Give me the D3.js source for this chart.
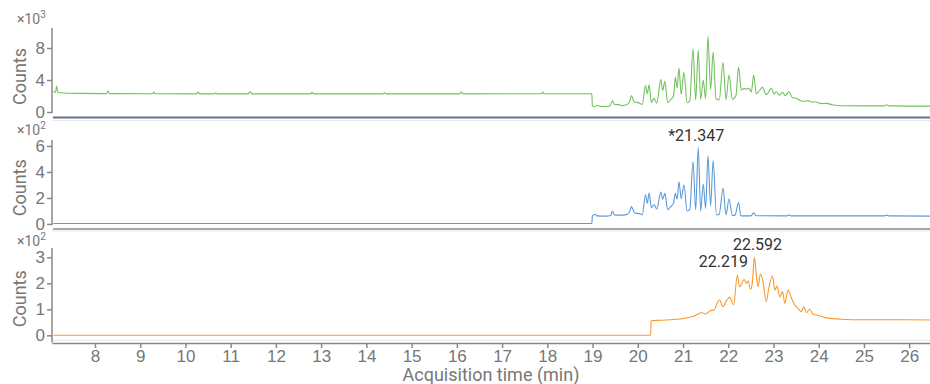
<!DOCTYPE html>
<html>
<head>
<meta charset="utf-8">
<script src="https://cdn.jsdelivr.net/npm/d3@7"></script>
<style>
  body { margin: 0; background: #fff; }
  svg { display: block; font-family: Roboto, "Noto Sans", sans-serif; }
  .axis .tick text { fill: #777; font-size: 17px; }
  .axis .tick line, .axis .domain { stroke: #888; stroke-width: 1.5; }
  .axis-title { fill: #777; font-size: 18px; }
  .mult { fill: #777; font-size: 14px; }
  .peak-label { fill: #333; font-size: 16px; }
  .trace { fill: none; stroke-width: 1.1; stroke-linejoin: round; }
</style>
</head>
<body>
<div id="chart"></div>
<script>
// --- Data (time in min, counts) ---
const ticTrace = [
  [7.08, 2550], [7.13, 2480], [7.15, 3250], [7.18, 2480], [7.3, 2380], [7.6, 2330],
  [8.26, 2300], [8.29, 2650], [8.32, 2300], [9.27, 2280], [9.3, 2480], [9.33, 2280],
  [10.25, 2270], [10.28, 2480], [10.31, 2270], [10.64, 2260], [10.67, 2400], [10.7, 2260],
  [11.38, 2260], [11.43, 2520], [11.48, 2260], [12.77, 2260], [12.8, 2460], [12.83, 2260],
  [14.37, 2270], [14.4, 2420], [14.43, 2270], [16.07, 2270], [16.1, 2540], [16.13, 2270],
  [17.87, 2280], [17.9, 2500], [17.93, 2280], [18.985, 2280],
  [18.995, 800], [19.04, 650], [19.1, 820], [19.18, 700], [19.3, 680], [19.38, 760],
  [19.44, 1400], [19.49, 900], [19.56, 950], [19.65, 800], [19.75, 900], [19.82, 1300],
  [19.86, 2050], [19.92, 1250], [19.98, 1200], [20.04, 1100], [20.1, 950], [20.17, 3300],
  [20.21, 2300], [20.25, 3400], [20.3, 1200], [20.36, 1700], [20.42, 1100], [20.51, 4050],
  [20.55, 2700], [20.6, 3850], [20.66, 1150], [20.72, 1500], [20.79, 2000], [20.83, 4350],
  [20.87, 3000], [20.91, 5500], [20.96, 2200], [21.02, 4950], [21.09, 1150], [21.15, 1400],
  [21.22, 7900], [21.28, 1500], [21.336, 7700], [21.39, 1600], [21.447, 3950], [21.5, 1650],
  [21.551, 9450], [21.61, 2800], [21.666, 7500], [21.73, 1650], [21.8, 1500], [21.885, 6170],
  [21.95, 1550], [22.017, 4630], [22.09, 1580], [22.17, 2050], [22.227, 5580], [22.29, 2750],
  [22.35, 2950], [22.4, 2850], [22.46, 2950], [22.51, 2500], [22.563, 4630], [22.62, 2300],
  [22.68, 2600], [22.755, 3080], [22.84, 2170], [22.955, 2960], [23.01, 2250], [23.065, 2540],
  [23.13, 2100], [23.2, 2450], [23.26, 2050], [23.34, 2540], [23.42, 1800], [23.51, 1710],
  [23.6, 1400], [23.68, 1350], [23.76, 1420], [23.84, 1250], [23.93, 1250], [24.05, 1050],
  [24.17, 1080], [24.3, 900], [24.5, 780], [25.0, 760], [25.45, 760], [25.5, 900],
  [25.55, 760], [26.0, 740], [26.46, 740]
];

const eicTrace = [
  [7.08, 3], [18.985, 3], [18.995, 60], [19.05, 75], [19.1, 62], [19.3, 60], [19.4, 65],
  [19.44, 100], [19.48, 70], [19.6, 68], [19.75, 72], [19.82, 95], [19.86, 133], [19.93, 85],
  [20.05, 78], [20.1, 70], [20.17, 225], [20.21, 160], [20.25, 238], [20.3, 125], [20.36, 150],
  [20.42, 115], [20.51, 245], [20.55, 190], [20.6, 235], [20.66, 110], [20.72, 130],
  [20.79, 160], [20.83, 236], [20.87, 190], [20.91, 325], [20.96, 195], [21.02, 300],
  [21.09, 100], [21.15, 110], [21.22, 480], [21.28, 110], [21.336, 590], [21.39, 100],
  [21.447, 308], [21.5, 120], [21.551, 525], [21.61, 140], [21.666, 487], [21.74, 70],
  [21.8, 75], [21.885, 275], [21.95, 70], [22.017, 192], [22.09, 65], [22.15, 68],
  [22.227, 164], [22.28, 62], [22.5, 62], [22.56, 85], [22.62, 63], [23.3, 62], [23.34, 70],
  [23.38, 62], [25.45, 62], [25.5, 68], [25.55, 62], [26.46, 60]
];

const ticTrace2 = [
  [7.08, 0], [20.285, 0], [20.295, 56], [20.5, 58], [20.93, 63], [21.22, 72], [21.41, 87],
  [21.5, 82], [21.59, 93], [21.7, 100], [21.75, 123], [21.81, 136], [21.88, 110], [21.97, 136],
  [22.03, 146], [22.12, 117], [22.2, 232], [22.25, 187], [22.31, 202], [22.35, 215], [22.4, 200],
  [22.44, 210], [22.49, 177], [22.53, 200], [22.58, 300], [22.62, 232], [22.66, 187], [22.71, 236],
  [22.77, 206], [22.84, 129], [22.9, 185], [22.98, 228], [23.03, 174], [23.08, 190], [23.14, 148],
  [23.2, 168], [23.25, 123], [23.32, 174], [23.4, 142], [23.47, 117], [23.54, 104], [23.62, 91],
  [23.67, 110], [23.73, 87], [23.8, 100], [23.87, 82], [23.98, 77], [24.2, 66], [24.5, 62],
  [25.0, 60], [25.8, 60], [26.46, 59]
];

const traceColors = ['#72c25c', '#5b9bd8', '#f9992b'];
const yTickValues = [[0, 4000, 8000], [0, 200, 400, 600], [0, 100, 200, 300]];
const yExponents = [3, 2, 2];
const yDomains = [[-750, 10500], [-35, 646], [-27.7, 336]];
const xTickValues = [8, 9, 10, 11, 12, 13, 14, 15, 16, 17, 18, 19, 20, 21, 22, 23, 24, 25, 26];

const peakLabels = [
  { panel: 1, t: 21.336, v: 590, text: '*21.347', dx: -2, dy: -6 },
  { panel: 2, t: 22.58, v: 300, text: '22.592', dx: 3, dy: -7 },
  { panel: 2, t: 22.2, v: 232, text: '22.219', dx: -14, dy: -8 }
];

// --- Layout ---
const width = 930, height = 384;
const panelBox = [{ top: 28, bottom: 118 }, { top: 140, bottom: 228.5 }, { top: 248, bottom: 342.5 }];
const multBaseline = [24, 135, 246];
const traces = [ticTrace, eicTrace, ticTrace2];

const svg = d3.select('#chart').append('svg')
  .attr('width', width)
  .attr('height', height);

const x = d3.scaleLinear().domain([7.05, 26.46]).range([52, 930]);

// light panel borders
[120.5, 231, 340.5].forEach(yy => {
  svg.append('line').attr('x1', 52).attr('x2', 930).attr('y1', yy).attr('y2', yy)
    .attr('stroke', '#e8e8e8').attr('stroke-width', 1);
});

const yScales = [];

panelBox.forEach((box, i) => {
  const y = d3.scaleLinear().domain(yDomains[i]).range([box.bottom, box.top]);
  yScales.push(y);
  const g = svg.append('g').attr('class', 'panel');

  // bottom rule of each panel
  if (i === 0) {
    g.append('line').attr('x1', 53).attr('x2', 930).attr('y1', 117.5).attr('y2', 117.5)
      .attr('stroke', '#66728f').attr('stroke-width', 2);
  } else if (i === 1) {
    g.append('line').attr('x1', 53).attr('x2', 930).attr('y1', 229).attr('y2', 229)
      .attr('stroke', '#888').attr('stroke-width', 1.5);
  }

  // trace
  g.append('path')
    .datum(traces[i])
    .attr('class', 'trace')
    .attr('stroke', traceColors[i])
    .attr('d', d3.line().curve(d3.curveMonotoneX).x(d => x(d[0])).y(d => y(d[1])));

  // y axis
  const div = Math.pow(10, yExponents[i]);
  const yAxis = g.append('g')
    .attr('class', 'axis axis--y')
    .attr('transform', 'translate(52,0)')
    .call(d3.axisLeft(y).tickValues(yTickValues[i]).tickSize(5).tickPadding(2)
      .tickFormat(d => d / div));
  yAxis.select('.domain').remove();
  yAxis.append('line')
    .attr('x1', 0).attr('x2', 0)
    .attr('y1', box.top)
    .attr('y2', i === 2 ? box.bottom : y(0) + 1)
    .attr('stroke', '#888').attr('stroke-width', 1.5);

  // multiplier
  const m = g.append('text').attr('class', 'mult')
    .attr('x', 17).attr('y', multBaseline[i]);
  m.append('tspan').text('×10');
  m.append('tspan').attr('font-size', 10).attr('dy', -6).text(yExponents[i]);

  // y title
  g.append('text')
    .attr('class', 'axis-title')
    .attr('text-anchor', 'middle')
    .attr('transform', `translate(26,${(box.top + box.bottom) / 2 + 3.5}) rotate(-90)`)
    .text('Counts');
});

// x axis at bottom panel
svg.append('g')
  .attr('class', 'axis axis--x')
  .attr('transform', 'translate(0,343)')
  .call(d3.axisBottom(x).tickValues(xTickValues).tickSize(5).tickSizeOuter(0).tickPadding(2));

svg.append('text')
  .attr('class', 'axis-title')
  .attr('text-anchor', 'middle')
  .attr('x', 491)
  .attr('y', 381)
  .text('Acquisition time (min)');

// peak annotations
svg.selectAll('.peak-label')
  .data(peakLabels)
  .enter().append('text')
  .attr('class', 'peak-label')
  .attr('text-anchor', 'middle')
  .attr('x', d => x(d.t) + d.dx)
  .attr('y', d => yScales[d.panel](d.v) + d.dy)
  .text(d => d.text);
</script>
</body>
</html>
